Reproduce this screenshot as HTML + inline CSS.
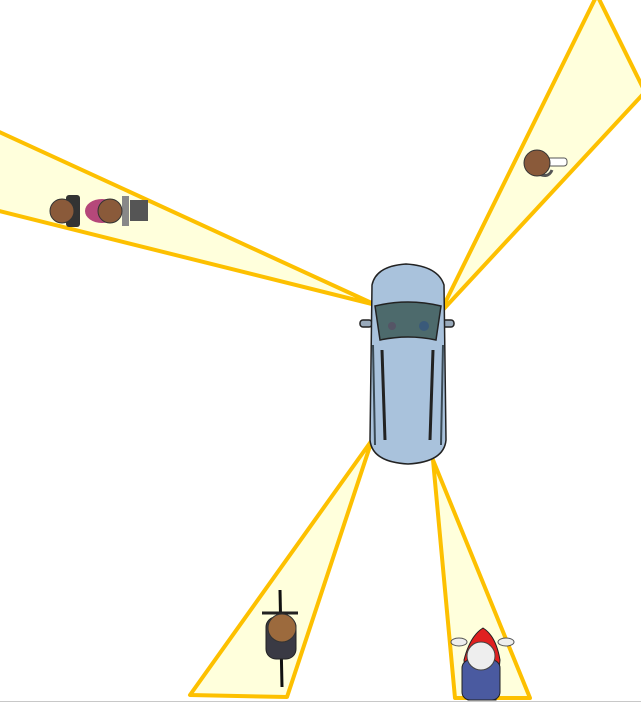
<!DOCTYPE html>
<html><head><meta charset="utf-8"><style>html,body{margin:0;padding:0;background:#fff;}svg{display:block}</style></head>
<body>
<svg width="641" height="703" viewBox="0 0 641 703" xmlns="http://www.w3.org/2000/svg">
<rect width="641" height="703" fill="#fff"/>
<g fill="#ffffdc" stroke="#fdc000" stroke-width="4" stroke-linejoin="round">
<polygon points="376,305 -5,130 -5,210"/>
<polygon points="440,313 597,-5 645,92"/>
<polygon points="372,440 190,695 287,697"/>
<polygon points="433,460 455,698 530,698"/>
</g>
<line x1="0" y1="701.5" x2="641" y2="701.5" stroke="#c8c8c8" stroke-width="1"/>
<!-- car -->
<g stroke="#222" stroke-width="1.5">
<rect x="360" y="320" width="12" height="7" rx="3" fill="#9ab"/>
<rect x="442" y="320" width="12" height="7" rx="3" fill="#9ab"/>
<path d="M372,285 Q376,266 406,264 Q438,266 444,285 L446,440 Q444,462 408,464 Q372,462 370,440 Z" fill="#a9c2dc"/>
<path d="M375,306 Q408,298 441,306 L436,340 Q408,334 380,340 Z" fill="#4d6a6c"/>
<line x1="382" y1="350" x2="385" y2="440" stroke-width="3"/>
<line x1="433" y1="350" x2="430" y2="440" stroke-width="3"/>
<line x1="373" y1="345" x2="375" y2="445" stroke-width="2" stroke="#3a4a55"/>
<line x1="443" y1="345" x2="441" y2="445" stroke-width="2" stroke="#3a4a55"/>
</g>
<circle cx="392" cy="326" r="4" fill="#556"/><circle cx="424" cy="326" r="5" fill="#3a5a7a"/>
<!-- cyclist left -->
<g>
<rect x="66" y="195" width="14" height="32" rx="3" fill="#333"/>
<rect x="122" y="196" width="7" height="30" fill="#888"/>
<rect x="130" y="200" width="18" height="21" fill="#555"/>
<ellipse cx="102" cy="211" rx="17" ry="12" fill="#b5487a"/>
<circle cx="110" cy="211" r="12" fill="#8a5a3a" stroke="#333"/>
<circle cx="62" cy="211" r="12" fill="#8a5a3a" stroke="#333"/>
</g>
<!-- pedestrian -->
<g>
<rect x="545" y="158" width="22" height="8" rx="3" fill="#fff" stroke="#555"/>
<path d="M535,172 Q548,180 552,170" stroke="#555" fill="none" stroke-width="3"/>
<circle cx="537" cy="163" r="13" fill="#8a5a3a" stroke="#333"/>
</g>
<!-- bicycle bottom -->
<g>
<line x1="280" y1="590" x2="282" y2="687" stroke="#111" stroke-width="3"/>
<line x1="262" y1="613" x2="298" y2="613" stroke="#222" stroke-width="3"/>
<rect x="266" y="617" width="30" height="42" rx="10" fill="#3a3a44" stroke="#222"/>
<circle cx="282" cy="628" r="14" fill="#9c6a3d" stroke="#333"/>
</g>
<!-- motorbike -->
<g>
<path d="M464,660 Q470,636 483,628 Q496,636 500,660 L496,700 L468,700 Z" fill="#e02020" stroke="#222"/>
<ellipse cx="459" cy="642" rx="8" ry="4" fill="#eee" stroke="#555"/>
<ellipse cx="506" cy="642" rx="8" ry="4" fill="#eee" stroke="#555"/>
<rect x="462" y="660" width="38" height="40" rx="8" fill="#4a5aa0" stroke="#222"/>
<circle cx="481" cy="656" r="14" fill="#eee" stroke="#444"/>
</g>
</svg>
</body></html>
